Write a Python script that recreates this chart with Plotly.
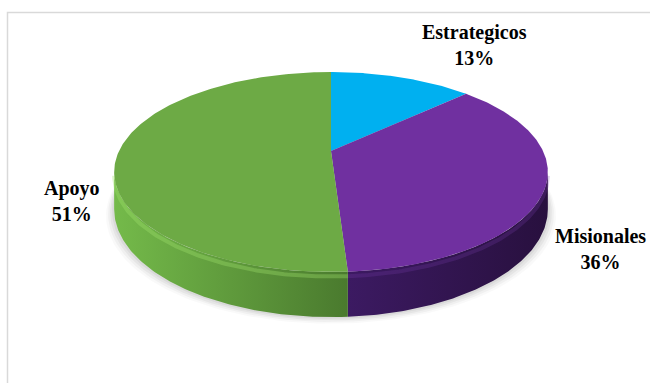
import numpy as np
import plotly.graph_objects as go

# ---- data ----
categories = ["Estrategicos", "Misionales", "Apoyo"]
values = [13, 36, 51]
top_colors = ["#00B0F0", "#7030A0", "#6DAA45"]
side_left_colors = ["#0090C8", "#3C1A62", "#74BA4A"]
side_right_colors = ["#006A96", "#28103E", "#4A7A2E"]
label_pos = [(474, 45), (600, 249), (72, 201)]

# ---- geometry (pixel space) ----
W, H_PX = 650, 383
CX, CY, RX, RY, K, THICK = 331, 151, 212, 95.6, 0.21, 35.6


def proj(theta_deg, depth=0.0):
    t = np.radians(theta_deg)
    d = 1.0 / (1.0 + K * np.cos(t))
    x = CX + RX * np.sin(t) * d
    y = CY - RY * np.cos(t) * d + THICK * d * depth
    return x, y


fig = go.Figure()

# shadow under the pie
th = np.linspace(0, 360, 241)
for off, a in [(12, 0.025), (9, 0.035), (6, 0.045), (3, 0.05)]:
    x, y = proj(th, 1.0)
    x = CX + (x - CX) * (1 + off / 320)
    y = y + off * 0.55
    fig.add_trace(go.Scatter(x=x, y=y, mode="lines", fill="toself",
                             fillcolor=f"rgba(0,0,0,{a})", line=dict(width=0),
                             hoverinfo="skip", showlegend=False))

total = sum(values)
starts = np.cumsum([0] + values[:-1]) / total * 360
ends = np.cumsum(values) / total * 360
tr = np.degrees(np.arccos(-K))
vis_lo, vis_hi = tr, 360 - tr

# sides (front visible part)
for i in range(len(values)):
    lo, hi = max(starts[i], vis_lo), min(ends[i], vis_hi)
    if hi <= lo:
        continue
    t = np.linspace(lo, hi, 120)
    xt, yt = proj(t, 0.0)
    xb, yb = proj(t[::-1], 1.0)
    fig.add_trace(go.Scatter(
        x=np.concatenate([xt, xb]), y=np.concatenate([yt, yb]),
        mode="lines", fill="toself", line=dict(width=0),
        fillgradient=dict(type="horizontal",
                          colorscale=[[0, side_left_colors[i]], [1, side_right_colors[i]]]),
        hoverinfo="skip", showlegend=False))
    # soft rim highlight
    xh, yh = proj(t, 0.1)
    fig.add_trace(go.Scatter(x=xh, y=yh, mode="lines",
                             line=dict(width=4, color="rgba(160,225,110,0.35)" if i == 2 else "rgba(120,60,170,0.25)"),
                             hoverinfo="skip", showlegend=False))

# top faces
for i in range(len(values)):
    t = np.linspace(starts[i], ends[i], 200)
    xa, ya = proj(t, 0.0)
    fig.add_trace(go.Scatter(
        x=np.concatenate([[CX], xa, [CX]]), y=np.concatenate([[CY], ya, [CY]]),
        mode="lines", fill="toself", fillcolor=top_colors[i], line=dict(width=0),
        name=categories[i], hoverinfo="skip", showlegend=False))

# labels
for i in range(len(values)):
    fig.add_annotation(x=label_pos[i][0], y=label_pos[i][1], xref="x", yref="y",
                       text=f"<b>{categories[i]}<br>{round(values[i] / total * 100)}%</b>",
                       showarrow=False, align="center",
                       font=dict(family="Liberation Serif", size=20, color="black"))

fig.add_shape(type="rect", xref="x", yref="y", x0=7.5, y0=12.5, x1=700, y1=420,
              line=dict(color="#D9D9D9", width=1.5), fillcolor="rgba(0,0,0,0)", layer="below")

fig.update_layout(
    width=W, height=H_PX, margin=dict(l=0, r=0, t=0, b=0),
    paper_bgcolor="white", plot_bgcolor="white",
    xaxis=dict(range=[0, W], visible=False, fixedrange=True),
    yaxis=dict(range=[H_PX, 0], visible=False, fixedrange=True),
)

fig.write_html("out.html", config={"displayModeBar": False},
               post_script="document.body.style.margin='0';document.body.style.overflow='hidden';")
